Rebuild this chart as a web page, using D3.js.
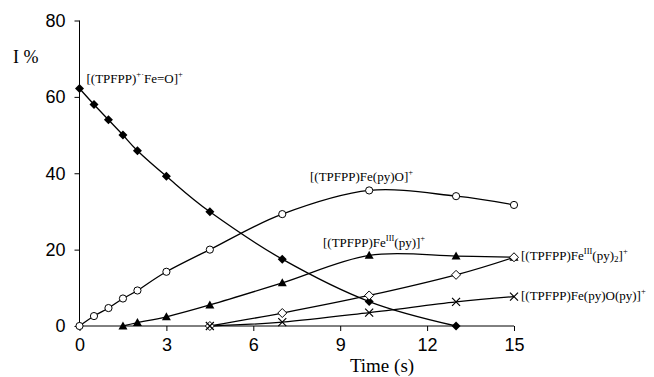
<!DOCTYPE html>
<html><head><meta charset="utf-8">
<script src="https://cdn.jsdelivr.net/npm/d3@7"></script>
<style>body{margin:0;background:#fff}</style></head>
<body><svg id="c" width="654" height="377"></svg>
<script>
const xTicks = [0, 3, 6, 9, 12, 15];
const yTicks = [0, 20, 40, 60, 80];

const tOxo = [0, 0.5, 1, 1.5, 2, 3, 4.5, 7, 10, 13];
const vOxo = [62.2, 58.0, 54.0, 50.0, 45.9, 39.2, 29.9, 17.5, 6.4, 0];

const tPyO = [0, 0.5, 1, 1.5, 2, 3, 4.5, 7, 10, 13, 15];
const vPyO = [0, 2.6, 4.7, 7.2, 9.3, 14.2, 20.0, 29.3, 35.5, 34.0, 31.7];

const tPy = [1.5, 2, 3, 4.5, 7, 10, 13, 15];
const vPy = [0, 0.9, 2.4, 5.5, 11.3, 18.5, 18.3, 18.0];

const tPy2 = [4.5, 7, 10, 13, 15];
const vPy2 = [0, 3.4, 8.0, 13.4, 18.0];

const tPyOPy = [4.5, 7, 10, 13, 15];
const vPyOPy = [0, 1.0, 3.5, 6.3, 7.7];

const svg = d3.select("#c");
const x = d3.scaleLinear().domain([0, 15]).range([79.5, 514]);
const y = d3.scaleLinear().domain([0, 80]).range([326, 20.5]);

// axes
const xa = svg.append("g").attr("transform", `translate(0,${y(0)})`)
  .call(d3.axisBottom(x).tickValues(xTicks).tickSize(5).tickPadding(7));
const ya = svg.append("g").attr("transform", `translate(${x(0)},0)`)
  .call(d3.axisLeft(y).tickValues(yTicks).tickSize(5).tickPadding(9));
[xa, ya].forEach(a => {
  a.select(".domain").attr("stroke", "#000").attr("stroke-width", 1);
  a.selectAll(".tick line").attr("stroke", "#000");
  a.selectAll("text").attr("font-family", "Liberation Sans, Arial, sans-serif")
    .attr("font-size", 18).attr("fill", "#000");
});
xa.select(".domain").attr("d", `M${x(0)},0H${x(15)}`);
ya.select(".domain").attr("d", `M0,${y(80)}V${y(0)}`);

const line = d3.line().x(d => x(d[0])).y(d => y(d[1])).curve(d3.curveCardinal.tension(0));

const series = [
  {t: tOxo, v: vOxo, m: "fdiamond"},
  {t: tPyO, v: vPyO, m: "circle"},
  {t: tPy, v: vPy, m: "triangle"},
  {t: tPy2, v: vPy2, m: "odiamond"},
  {t: tPyOPy, v: vPyOPy, m: "cross"}
];

series.forEach(s => {
  const pts = s.t.map((t, i) => [t, s.v[i]]);
  svg.append("path").attr("d", line(pts)).attr("fill", "none")
    .attr("stroke", "#000").attr("stroke-width", 1.3);
});
// markers drawn after lines
series.forEach(s => {
  const pts = s.t.map((t, i) => [t, s.v[i]]);
  const g = svg.append("g");
  pts.forEach(p => {
    const cx = x(p[0]), cy = y(p[1]);
    if (s.m === "fdiamond") {
      g.append("path").attr("d", `M${cx},${cy-4.5}L${cx+4.5},${cy}L${cx},${cy+4.5}L${cx-4.5},${cy}Z`).attr("fill", "#000");
    } else if (s.m === "odiamond") {
      g.append("path").attr("d", `M${cx},${cy-4.5}L${cx+4.5},${cy}L${cx},${cy+4.5}L${cx-4.5},${cy}Z`)
        .attr("fill", "#fff").attr("stroke", "#000").attr("stroke-width", 1);
    } else if (s.m === "circle") {
      g.append("circle").attr("cx", cx).attr("cy", cy).attr("r", 3.6)
        .attr("fill", "#fff").attr("stroke", "#000").attr("stroke-width", 1);
    } else if (s.m === "triangle") {
      g.append("path").attr("d", `M${cx},${cy-4.5}L${cx+4.5},${cy+3.5}L${cx-4.5},${cy+3.5}Z`).attr("fill", "#000");
    } else if (s.m === "cross") {
      g.append("path").attr("d", `M${cx-4},${cy-4}L${cx+4},${cy+4}M${cx-4},${cy+4}L${cx+4},${cy-4}`)
        .attr("stroke", "#000").attr("stroke-width", 1.2);
    }
  });
});

// series labels (Times)
const labels = [
  {x: 86.5, y: 83, parts: [["[(TPFPP)"], ["+·", "sup"], ["Fe=O]"], ["+", "sup"]]},
  {x: 310, y: 181, parts: [["[(TPFPP)Fe(py)O]"], ["+", "sup"]]},
  {x: 323, y: 247, parts: [["[(TPFPP)Fe"], ["III", "sup"], ["(py)]"], ["+", "sup"]]},
  {x: 521, y: 259.5, parts: [["[(TPFPP)Fe"], ["III", "sup"], ["(py)"], ["2", "sub"], ["]"], ["+", "sup"]]},
  {x: 521, y: 300, parts: [["[(TPFPP)Fe(py)O(py)]"], ["+", "sup"]]}
];
labels.forEach(l => {
  const t = svg.append("text").attr("x", l.x).attr("y", l.y)
    .attr("font-family", "Liberation Serif, Times New Roman, serif").attr("font-size", 13).attr("fill", "#000");
  let shift = 0;
  l.parts.forEach(p => {
    let target = 0, fs = 13;
    if (p[1] === "sup") { target = -6; fs = 8.5; }
    if (p[1] === "sub") { target = 2; fs = 9; }
    t.append("tspan").attr("dy", target - shift).attr("font-size", fs).text(p[0]);
    shift = target;
  });
});

svg.append("text").attr("x", 13).attr("y", 63).text("I %")
  .attr("font-family", "Liberation Serif, Times New Roman, serif").attr("font-size", 18).attr("fill", "#000");
svg.append("text").attr("x", 382).attr("y", 372).attr("text-anchor", "middle").text("Time (s)")
  .attr("font-family", "Liberation Serif, Times New Roman, serif").attr("font-size", 19).attr("fill", "#000");
</script></body></html>
